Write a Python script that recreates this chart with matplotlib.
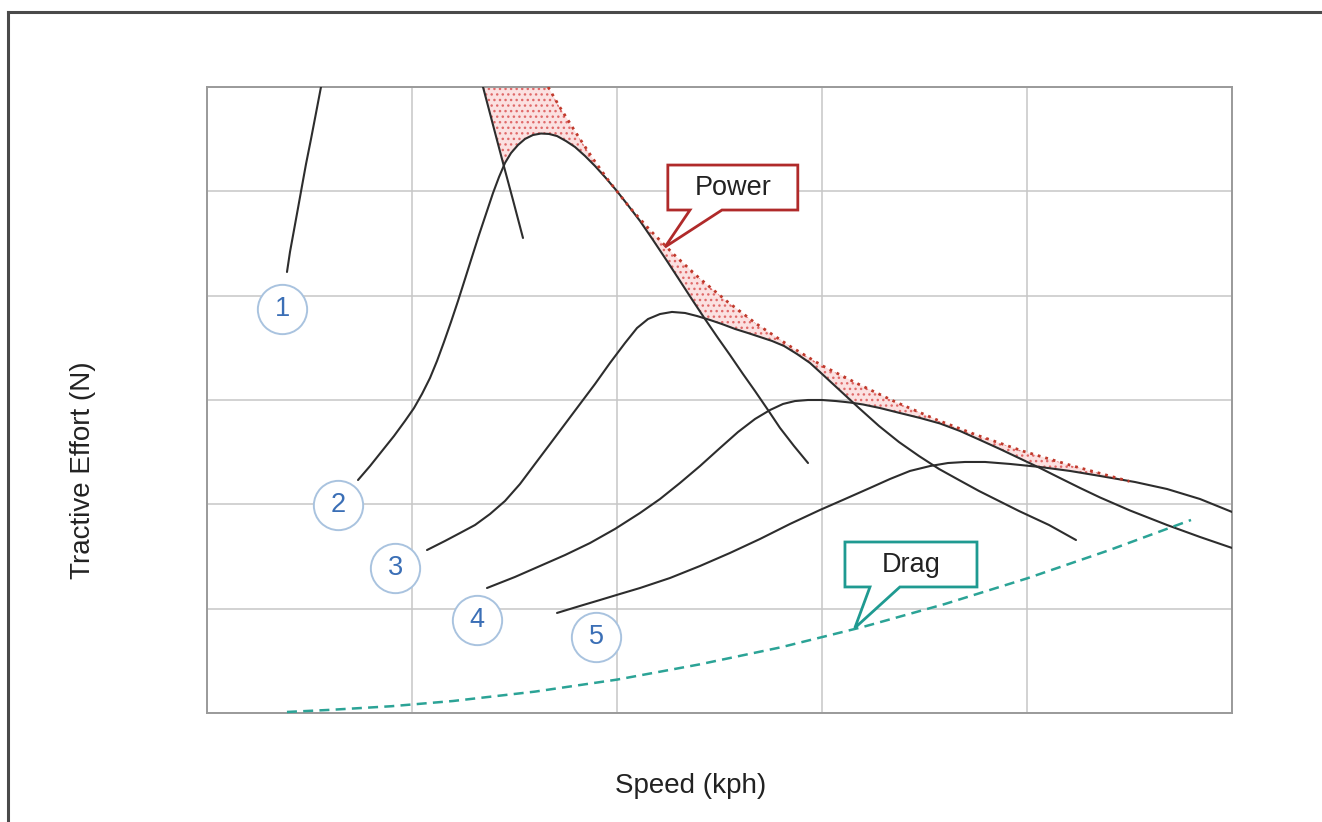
import numpy as np
import matplotlib.pyplot as plt
from matplotlib.patches import Polygon
from matplotlib.lines import Line2D

plt.rcParams['font.family'] = ['Liberation Sans', 'DejaVu Sans']
plt.rcParams['hatch.linewidth'] = 1.0

# ---- tractive effort per gear (speed in kph, effort in N) ----
gear1_speed = [19.51, 20.24, 21.22, 22.20, 23.17, 24.15, 25.37, 26.59, 27.80, 29.27, 32.44, 37.32,
               44.63, 51.95, 59.27, 64.15, 67.32, 69.76, 72.20, 74.63, 77.07]
gear1_force = [4227, 4419, 4629, 4840, 5051, 5262, 5502, 5751, 6000, 6259, 6690, 7074,
               7313, 7313, 7074, 6642, 6000, 5636, 5272, 4917, 4553]

gear2_speed = [36.83, 39.76, 42.68, 45.61, 48.29, 50.49, 52.44, 54.39, 56.10, 57.80, 59.51, 61.22,
               62.93, 64.63, 66.34, 68.05, 69.76, 71.22, 72.68, 74.15, 75.85, 77.56, 79.51, 81.46,
               83.41, 85.37, 87.56, 89.76, 92.20, 94.63, 97.07, 99.76, 102.44, 105.61, 108.78,
               112.20, 115.37, 118.54, 121.46, 124.63, 127.56, 130.73, 133.66, 136.83, 139.76,
               143.17, 146.59]
gear2_force = [2233, 2367, 2511, 2655, 2799, 2923, 3058, 3211, 3374, 3556, 3748, 3949,
               4160, 4371, 4582, 4783, 4984, 5137, 5272, 5367, 5444, 5502, 5540, 5554,
               5550, 5530, 5482, 5425, 5339, 5243, 5137, 5013, 4879, 4716, 4534,
               4332, 4141, 3949, 3776, 3594, 3431, 3249, 3086, 2904, 2732,
               2559, 2396]

gear3_speed = [53.66, 58.05, 61.71, 65.37, 69.02, 72.68, 76.34, 80.00, 83.66, 87.32, 90.98, 94.63,
               98.29, 101.95, 104.88, 107.56, 110.49, 113.41, 116.59, 119.51, 122.68, 125.61,
               128.78, 131.95, 134.88, 137.80, 140.73, 143.90, 147.07, 149.76, 152.68, 155.85,
               159.02, 163.90, 168.78, 173.66, 178.54, 183.41, 188.29, 193.17, 198.05, 205.37,
               211.95]
gear3_force = [1562, 1649, 1725, 1802, 1907, 2032, 2195, 2387, 2578, 2770, 2962, 3153,
               3355, 3546, 3690, 3776, 3824, 3844, 3834, 3805, 3767, 3728,
               3681, 3642, 3604, 3566, 3518, 3441, 3355, 3259, 3153, 3038,
               2923, 2751, 2597, 2463, 2339, 2233, 2128, 2032, 1936, 1802,
               1658]

gear4_speed = [68.29, 75.12, 81.22, 87.32, 93.41, 99.51, 105.61, 110.49, 115.37, 120.24, 125.12,
               129.51, 133.66, 137.32, 140.49, 143.41, 146.59, 150.00, 153.41, 156.83, 160.00,
               164.15, 169.02, 173.90, 178.78, 183.66, 188.54, 193.41, 198.29, 203.17, 208.05,
               212.93, 217.80, 225.12, 234.15, 242.20, 250.00]
gear4_force = [1198, 1304, 1409, 1514, 1629, 1764, 1917, 2051, 2205, 2367, 2540,
               2693, 2818, 2904, 2962, 2990, 3000, 3000, 2990, 2976, 2957,
               2923, 2875, 2828, 2775, 2703, 2617, 2530, 2439, 2348, 2252,
               2157, 2066, 1941, 1802, 1687, 1582]

gear5_speed = [85.37, 90.98, 95.85, 100.73, 105.61, 112.93, 120.24, 127.56, 134.88, 142.20, 149.51,
               155.61, 161.71, 166.59, 171.46, 176.34, 180.73, 184.88, 189.76, 195.85, 203.17,
               210.49, 217.80, 226.34, 234.15, 242.20, 250.00]
gear5_force = [959, 1026, 1083, 1141, 1198, 1294, 1409, 1534, 1668, 1812, 1946,
               2051, 2157, 2243, 2320, 2367, 2396, 2406, 2406, 2387, 2358,
               2320, 2272, 2214, 2147, 2051, 1927]

# ---- constant power limit and aerodynamic drag ----
power_speed = [83.2, 86, 90, 94, 98, 103, 108, 114, 120, 127, 134, 142, 150, 159, 168, 178, 188,
               199, 211, 225]
power_force = [6000, 5810, 5560, 5320, 5100, 4850, 4630, 4390, 4170, 3940, 3730, 3520, 3330, 3150,
               2980, 2810, 2660, 2510, 2370, 2220]

drag_speed = [19.5, 30, 45, 60, 80, 100, 120, 140, 160, 180, 200, 220, 240]
drag_force = [10, 30, 65, 115, 205, 320, 465, 630, 825, 1045, 1290, 1560, 1850]

gear_labels = ['1', '2', '3', '4', '5']
label_speed = [18.3, 32.0, 45.9, 65.9, 94.9]
label_force = [3872, 1994, 1390, 891, 728]

W, H = 1322, 822
fig = plt.figure(figsize=(W / 100, H / 100), dpi=100)
fig.patch.set_facecolor('white')
ax = fig.add_axes([207 / W, 109 / H, 1025 / W, 626 / H])
ax.set_xlim(0, 250)
ax.set_ylim(0, 6000)
ax.set_xticks(np.arange(0, 251, 50))
ax.set_yticks(np.arange(0, 6001, 1000))
ax.tick_params(length=0, labelbottom=False, labelleft=False)
ax.grid(True, color='#c6c6c6', lw=1.1)
ax.set_axisbelow(True)
for sp in ax.spines.values():
    sp.set_color('#9a9a9a')
    sp.set_linewidth(1.4)

gears = [(gear1_speed, gear1_force), (gear2_speed, gear2_force), (gear3_speed, gear3_force),
         (gear4_speed, gear4_force), (gear5_speed, gear5_force)]

# shaded gap between the power limit and the best available gear
xs = np.linspace(60, power_speed[-1], 2500)
lower = np.max([np.interp(xs, s, f, left=-1e9, right=-1e9) for s, f in gears], axis=0)
upper = np.minimum(np.interp(xs, power_speed, power_force, left=6000), 6000)
ax.fill_between(xs, lower, upper, where=upper > lower, interpolate=True,
                facecolor='#fbe1e1', edgecolor='#e06a6a', hatch='...', linewidth=0, zorder=1.5)

for s, f in gears:
    ax.plot(s, f, color='#2d2d2d', lw=1.5, zorder=3, solid_capstyle='round',
            solid_joinstyle='round')

ax.plot(power_speed, power_force, color='#c0392b', lw=2, linestyle=(0, (1, 1.8)), zorder=4)
ax.plot(drag_speed, drag_force, color='#2ba396', lw=1.8, linestyle=(0, (4, 2.5)), zorder=3,
        clip_on=False)

# gear numbers
ax.plot(label_speed, label_force, 'o', ms=35.5, mfc='white', mec='#a9c3df', mew=1.4,
        zorder=5, clip_on=False, linestyle='none')
for lab, xv, yv in zip(gear_labels, label_speed, label_force):
    ax.text(xv, yv, lab, ha='center', va='center', fontsize=19.5, color='#3b6fb6', zorder=6)

# callouts
power_box = [(112.4, 5252), (144.1, 5252), (144.1, 4821), (125.6, 4821), (111.7, 4466),
             (117.8, 4821), (112.4, 4821)]
ax.add_patch(Polygon(power_box, closed=True, facecolor='white', edgecolor='#b02a2a', lw=2,
                     joinstyle='miter', zorder=6))
ax.text(128.3, 5032, 'Power', ha='center', va='center', fontsize=19.5, color='#222222', zorder=7)

drag_box = [(155.6, 1639), (187.8, 1639), (187.8, 1208), (169.0, 1208), (158.0, 815),
            (161.7, 1208), (155.6, 1208)]
ax.add_patch(Polygon(drag_box, closed=True, facecolor='white', edgecolor='#1f9a91', lw=2,
                     joinstyle='miter', zorder=6))
ax.text(171.7, 1419, 'Drag', ha='center', va='center', fontsize=19.5, color='#222222', zorder=7)

# axis titles
fig.text(691 / W, 1 - 786 / H, 'Speed (kph)', ha='center', va='center', fontsize=20, color='#222222')
fig.text(83 / W, 1 - 470 / H, 'Tractive Effort (N)', ha='center', va='center', rotation=90,
         fontsize=20, color='#222222')

# outer frame
fig.add_artist(Line2D([8 / W, 8 / W], [0, 1 - 12 / H], transform=fig.transFigure,
                      color='#4a4a4a', lw=2.2))
fig.add_artist(Line2D([8 / W, 1], [1 - 12 / H, 1 - 12 / H], transform=fig.transFigure,
                      color='#4a4a4a', lw=2.2))

fig.savefig('out.png', dpi=100, facecolor='white')
